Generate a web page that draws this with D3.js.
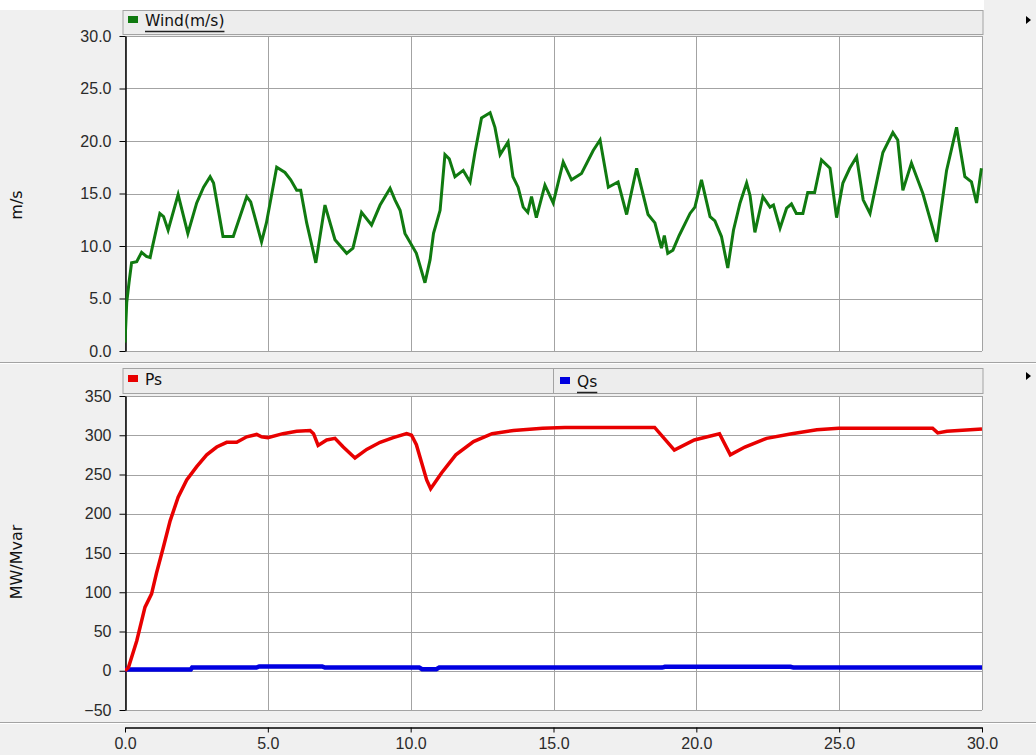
<!DOCTYPE html>
<html>
<head>
<meta charset="utf-8">
<script src="https://cdn.jsdelivr.net/npm/d3@7"></script>
<style>
body{margin:0;background:#fff;}
svg{display:block;font-family:"DejaVu Sans",sans-serif;}
.tick text{font-size:16px;fill:#2a2a2a;}
</style>
</head>
<body>
<svg id="chart" width="1036" height="755"></svg>
<script>
// wind speed trace (time s, m/s)
var windTime = [0,0.06,0.14,0.23,0.41,0.58,0.75,0.88,0.95,1.22,1.35,1.51,1.86,2.2,2.51,2.75,2.98,3.1,3.43,3.79,4.26,4.4,4.78,4.95,5.31,5.6,5.8,6.01,6.15,6.36,6.68,7.0,7.35,7.76,7.98,8.28,8.63,8.93,9.28,9.45,9.63,9.8,10.2,10.5,10.68,10.8,11.03,11.2,11.35,11.55,11.84,12.08,12.25,12.48,12.78,12.95,13.13,13.41,13.58,13.76,13.94,14.1,14.23,14.4,14.7,14.99,15.34,15.63,15.98,16.39,16.63,16.92,17.26,17.56,17.91,18.31,18.55,18.78,18.88,19.0,19.18,19.4,19.78,19.95,20.18,20.48,20.65,20.88,21.1,21.3,21.53,21.76,21.88,22.05,22.33,22.58,22.7,22.93,23.16,23.33,23.5,23.73,23.9,24.14,24.38,24.68,24.91,25.13,25.37,25.61,25.84,26.08,26.53,26.88,27.05,27.23,27.53,27.93,28.41,28.76,29.11,29.4,29.63,29.81,29.98];
var windSpeed = [0.8,4.6,6.5,8.4,8.5,9.4,9.0,8.9,9.8,13.1,12.8,11.5,14.9,11.2,14.1,15.6,16.6,16.0,10.9,10.9,14.7,14.2,10.4,12.2,17.5,17.0,16.3,15.3,15.3,12.2,8.4,13.9,10.6,9.3,9.8,13.2,12.0,13.9,15.5,14.4,13.4,11.2,9.3,6.5,8.7,11.2,13.4,18.7,18.3,16.6,17.2,16.1,18.9,22.2,22.7,21.3,18.7,19.9,16.6,15.6,13.7,13.2,14.7,12.7,15.8,14.1,18.0,16.3,16.9,19.1,20.1,15.6,16.1,13.0,17.4,13.0,12.2,9.8,11.0,9.3,9.6,11.0,13.1,13.7,16.3,12.8,12.4,10.9,7.9,11.5,14.1,16.0,14.8,11.3,14.7,13.7,13.9,11.7,13.6,14.0,13.1,13.1,15.1,15.1,18.2,17.4,12.7,16.0,17.4,18.5,14.4,13.1,18.9,20.8,20.1,15.3,17.9,15.0,10.4,17.2,21.3,16.6,16.1,14.1,17.4];

// active power Ps (MW)
var psTime = [0,0.12,0.41,0.7,0.93,1.1,1.34,1.58,1.86,2.16,2.51,2.86,3.21,3.56,3.91,4.26,4.61,4.78,5.0,5.53,6.01,6.48,6.6,6.76,7.06,7.35,7.64,8.05,8.46,8.93,9.39,9.86,10.03,10.2,10.4,10.56,10.7,11.08,11.58,12.2,12.85,13.6,14.62,15.4,18.54,19.23,19.93,20.81,21.19,21.7,22.46,23.34,24.22,24.98,28.27,28.45,28.77,30];
var psValue = [0,4,38,81,98,124,157,191,221,243,260,275,285,291,291,298,301,298,297,302,305,306,302,287,294,296,285,271,282,291,297,302,300,288,263,243,232,252,275,292,302,306,309,310,310,281,294,302,275,285,296,302,307,309,309,303,305,308];

// reactive power Qs (Mvar)
var qsTime = [0,2.3,2.35,4.6,4.7,6.9,7.0,10.3,10.4,10.9,11.0,18.8,18.9,23.3,23.4,30];
var qsValue = [1.5,1.5,4,4,5.5,5.5,4,4,2,2,4,4,5,5,4,4];

var topTicks = [0,5,10,15,20,25,30];
var botTicks = [-50,0,50,100,150,200,250,300,350];
var timeTicks = [0,5,10,15,20,25,30];

var svg = d3.select("#chart");
var W = 1036, H = 755;
var grid = "#a3a3a3", panel = "#f0f0f0";

var x = d3.scaleLinear().domain([0,30]).range([125,982]);
var yTop = d3.scaleLinear().domain([0,30]).range([351,36]);
var yBot = d3.scaleLinear().domain([-50,350]).range([710,396]);

// background
svg.append("rect").attr("x",0).attr("y",0).attr("width",W).attr("height",H).attr("fill",panel);
svg.append("rect").attr("x",0).attr("y",0).attr("width",984).attr("height",10).attr("fill","#fff");

// legend strips
function strip(y0,y1){
  svg.append("rect").attr("x",123).attr("y",y0).attr("width",860).attr("height",y1-y0)
    .attr("fill","#ededed").attr("stroke",grid).attr("stroke-width",1);
}
strip(10.5,34.5);
strip(368.5,393.5);
svg.append("line").attr("x1",553.5).attr("x2",553.5).attr("y1",368.5).attr("y2",393.5).attr("stroke",grid);

// separators
svg.append("line").attr("x1",0).attr("x2",W).attr("y1",362.5).attr("y2",362.5).attr("stroke",grid);
svg.append("line").attr("x1",0).attr("x2",W).attr("y1",363.5).attr("y2",363.5).attr("stroke","#fff");
svg.append("line").attr("x1",0).attr("x2",W).attr("y1",722.5).attr("y2",722.5).attr("stroke",grid);
svg.append("line").attr("x1",0).attr("x2",W).attr("y1",723.5).attr("y2",723.5).attr("stroke","#fff");

function plotPanel(y, ticks, fmt){
  var g = svg.append("g");
  var r = y.range();
  g.append("rect").attr("x",125).attr("y",r[1]).attr("width",857).attr("height",r[0]-r[1]).attr("fill","#fff");
  g.selectAll(".hg").data(ticks).enter().append("line")
    .attr("x1",125).attr("x2",982).attr("y1",function(d){return Math.round(y(d))+0.5;})
    .attr("y2",function(d){return Math.round(y(d))+0.5;}).attr("stroke",grid);
  g.selectAll(".vg").data(timeTicks).enter().append("line")
    .attr("x1",function(d){return Math.round(x(d))+0.5;}).attr("x2",function(d){return Math.round(x(d))+0.5;})
    .attr("y1",r[1]).attr("y2",r[0]).attr("stroke",grid);
  var ax = svg.append("g").attr("transform","translate(125.5,0)")
    .call(d3.axisLeft(y).tickValues(ticks).tickFormat(fmt).tickSize(6).tickSizeOuter(0).tickPadding(8));
  ax.select(".domain").attr("stroke","#000").attr("stroke-width",1.5);
  ax.selectAll(".tick line").attr("stroke","#000");
  return g;
}
plotPanel(yTop, topTicks, d3.format(".1f"));
plotPanel(yBot, botTicks, d3.format("d"));

// time axis
var xa = svg.append("g").attr("transform","translate(0,727.5)")
  .call(d3.axisBottom(x).tickValues(timeTicks).tickFormat(d3.format(".1f")).tickSize(5).tickSizeOuter(0).tickPadding(5));
xa.select(".domain").attr("stroke","#000").attr("stroke-width",1.5);
xa.selectAll(".tick line").attr("stroke","#000");

// series
svg.append("clipPath").attr("id","ct").append("rect").attr("x",125).attr("y",36).attr("width",858).attr("height",316);
svg.append("clipPath").attr("id","cb").append("rect").attr("x",125).attr("y",396).attr("width",858).attr("height",315);

var windLine = d3.line().x(function(d){return x(windTime[d]);}).y(function(d){return yTop(windSpeed[d]);});
svg.append("path").attr("clip-path","url(#ct)").attr("d",windLine(d3.range(windTime.length)))
  .attr("fill","none").attr("stroke","#107a10").attr("stroke-width",3).attr("stroke-linejoin","miter");

var qsLine = d3.line().x(function(d){return x(qsTime[d]);}).y(function(d){return yBot(qsValue[d]);});
svg.append("path").attr("clip-path","url(#cb)").attr("d",qsLine(d3.range(qsTime.length)))
  .attr("fill","none").attr("stroke","#0000e0").attr("stroke-width",4.5);

var psLine = d3.line().x(function(d){return x(psTime[d]);}).y(function(d){return yBot(psValue[d]);});
svg.append("path").attr("clip-path","url(#cb)").attr("d",psLine(d3.range(psTime.length)))
  .attr("fill","none").attr("stroke","#e80000").attr("stroke-width",3.5);

// legends
function legend(lx, ly, color, label, underline){
  svg.append("rect").attr("x",lx).attr("y",ly-10).attr("width",10).attr("height",7).attr("fill",color);
  var t = svg.append("text").attr("x",lx+17).attr("y",ly).attr("font-size",15.5).attr("fill","#111").text(label);
  if(underline){
    var w = t.node().getComputedTextLength();
    svg.append("line").attr("x1",lx+17).attr("x2",lx+17+w).attr("y1",ly+5.5).attr("y2",ly+5.5).attr("stroke","#222").attr("stroke-width",1.5);
  }
}
legend(128, 26, "#107a10", "Wind(m/s)", true);
legend(128, 385, "#e80000", "Ps", false);
legend(560, 387, "#0000e0", "Qs", true);

// axis titles
svg.append("text").attr("transform","translate(22,205) rotate(-90)").attr("text-anchor","middle")
  .attr("font-size",16).attr("fill","#111").text("m/s");
svg.append("text").attr("transform","translate(22,562) rotate(-90)").attr("text-anchor","middle")
  .attr("font-size",16).attr("fill","#111").text("MW/Mvar");

// small arrows at panel corners
[20,376].forEach(function(yy){
  svg.append("path").attr("d","M1026,"+(yy-4)+"L1031,"+yy+"L1026,"+(yy+4)+"Z").attr("fill","#000");
});
</script>
</body>
</html>
